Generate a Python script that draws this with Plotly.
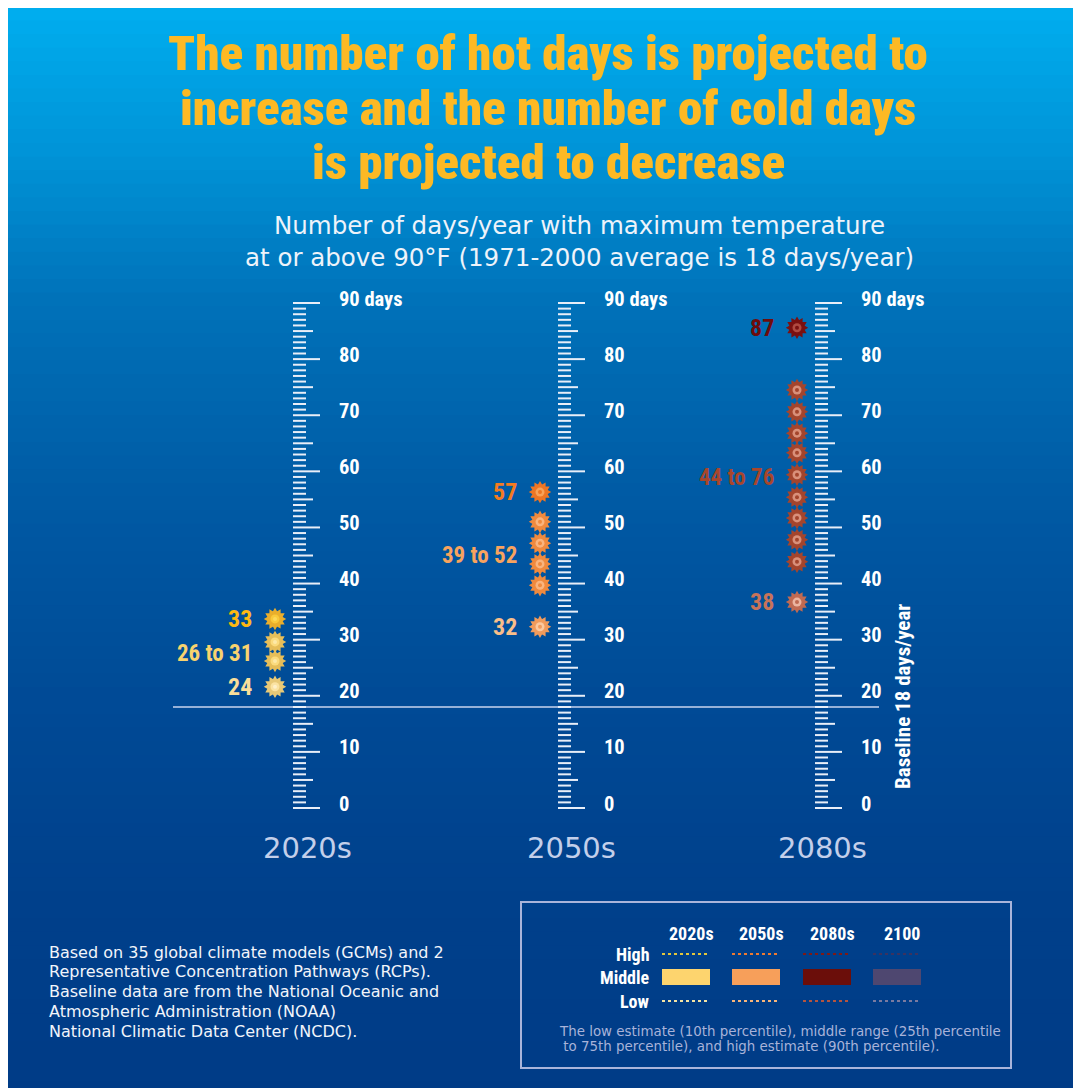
import numpy as np
import plotly.graph_objects as go

# ------------------------------------------------------------------ data
decades = ["2020s", "2050s", "2080s"]
low_days = [24, 32, 38]
mid_low_days = [26, 39, 44]
mid_high_days = [31, 52, 76]
high_days = [33, 57, 87]
baseline_days = 18
ruler_ticks = list(range(0, 91))
ruler_label_vals = [0, 10, 20, 30, 40, 50, 60, 70, 80, 90]
ruler_label_text = ["0", "10", "20", "30", "40", "50", "60", "70", "80", "90 days"]
# marker positions on the ruler (days)
low_marker_pos = [21.6, 32.3, 36.7]
mid_marker_pos = [
    [26.2, 29.6],
    [39.7, 43.5, 47.2, 51.0],
    [43.9, 47.8, 51.7, 55.4, 59.4, 63.3, 66.8, 70.6, 74.5],
]
high_marker_pos = [33.7, 56.3, 85.6]

legend_periods = ["2020s", "2050s", "2080s", "2100"]
legend_rows = ["High", "Middle", "Low"]

title_lines = [
    "The number of hot days is projected to",
    "increase and the number of cold days",
    "is projected to decrease",
]
subtitle_lines = [
    "Number of days/year with maximum temperature",
    "at or above 90°F (1971-2000 average is 18 days/year)",
]
source_lines = [
    "Based on 35 global climate models (GCMs) and 2",
    "Representative Concentration Pathways (RCPs).",
    "Baseline data are from the National Oceanic and",
    "Atmospheric Administration (NOAA)",
    "National Climatic Data Center (NCDC).",
]
legend_note = [
    "The low estimate (10th percentile), middle range (25th percentile",
    " to 75th percentile), and high estimate (90th percentile).",
]

# ------------------------------------------------------------------ layout constants
W, H = 1081, 1088
OFF = 8                      # page body margin
ZERO_SY = 808                # screen y of 0 days
SCALE = 5.611                # px per day
ruler_x = [293, 558, 815]
decade_label_x = [307, 571, 822]

COND = "Roboto Condensed, Liberation Sans, sans-serif"
WIDE = "DejaVu Sans, Open Sans, sans-serif"


def sy2d(sy):
    return (ZERO_SY - sy) / SCALE


def py(sy):
    return 1 - (sy - OFF) / H


sun_colors = [
    # (spike, ring, dot, text) for high, mid, low
    [("#E9AE2C", "#F9C93A", "#FDD85A", "#FDB913"),
     ("#E6BE5A", "#FBDB7E", "#FDE9A8", "#F8D36E"),
     ("#E8C977", "#FBE3A2", "#FEF0C9", "#F9DE9A")],
    [("#EE7624", "#F7A259", "#EE7624", "#F47B20"),
     ("#F08A3E", "#F9B47E", "#F08A3E", "#F8A35E"),
     ("#F19B5C", "#FBC9A0", "#F19B5C", "#F9BE8A")],
    [("#7A1111", "#B04A40", "#7A1111", "#6E0C0C"),
     ("#A4452D", "#D9907A", "#A4452D", "#A8462C"),
     ("#C06A52", "#EBB4A0", "#C06A52", "#C8735A")],
]

fig = go.Figure()

# ---------------- background gradient
stops_y = [OFF, 160, 300, 500, 700, 900, OFF + H]
stops_c = [(0, 174, 239), (0, 146, 214), (0, 114, 185), (0, 90, 164),
           (0, 74, 150), (0, 64, 139), (0, 59, 134)]
shapes = []
nb = 80
edges = np.linspace(OFF, OFF + H, nb + 1)
for i in range(nb):
    mid = 0.5 * (edges[i] + edges[i + 1])
    rgb = [int(round(np.interp(mid, stops_y, [c[k] for c in stops_c]))) for k in range(3)]
    shapes.append(dict(type="rect", xref="paper", yref="paper", x0=0, x1=1,
                       y0=py(edges[i + 1]) - 0.001, y1=py(edges[i]) + 0.001,
                       fillcolor="rgb(%d,%d,%d)" % tuple(rgb), line=dict(width=0),
                       layer="below"))

# ---------------- baseline
fig.add_trace(go.Scatter(x=[173, 879], y=[baseline_days, baseline_days], mode="lines",
                         line=dict(color="#C9D5EE", width=1.5), hoverinfo="skip"))

annotations = []

# ---------------- rulers
for i, rx in enumerate(ruler_x):
    xs, ys = [], []
    for d in ruler_ticks:
        L = 27 if d % 10 == 0 else (20 if d % 5 == 0 else 13)
        xs += [rx, rx + L, None]
        ys += [d, d, None]
    fig.add_trace(go.Scatter(x=xs, y=ys, mode="lines",
                             line=dict(color="#E8EEF8", width=2), hoverinfo="skip"))
    for v, t in zip(ruler_label_vals, ruler_label_text):
        annotations.append(dict(x=rx + 44, y=v + 0.8, xref="x", yref="y", text=t,
                                showarrow=False, xanchor="left", yanchor="middle",
                                font=dict(family=COND, size=20.5, color="white", weight=700)))
    annotations.append(dict(x=decade_label_x[i], y=py(848), xref="x", yref="paper",
                            text=decades[i], showarrow=False, xanchor="center", yanchor="middle",
                            font=dict(family=WIDE, size=29, color="#C3CFEA")))


def add_suns(x, ys, spike, ring, dot):
    xx = [x] * len(ys)
    for ang in (0, 30):
        fig.add_trace(go.Scatter(x=xx, y=ys, mode="markers", hoverinfo="skip",
                                 marker=dict(symbol="hexagram", size=17, angle=ang,
                                             color=spike, line=dict(width=0))))
    fig.add_trace(go.Scatter(x=xx, y=ys, mode="markers", hoverinfo="skip",
                             marker=dict(symbol="circle", size=13, color=spike, line=dict(width=0))))
    fig.add_trace(go.Scatter(x=xx, y=ys, mode="markers", hoverinfo="skip",
                             marker=dict(symbol="circle", size=9, color=ring, line=dict(width=0))))
    fig.add_trace(go.Scatter(x=xx, y=ys, mode="markers", hoverinfo="skip",
                             marker=dict(symbol="circle", size=4, color=dot, line=dict(width=0))))


for i, rx in enumerate(ruler_x):
    mx = rx - 18
    hi, mi, lo = sun_colors[i]
    add_suns(mx, [high_marker_pos[i]], *hi[:3])
    add_suns(mx, mid_marker_pos[i], *mi[:3])
    add_suns(mx, [low_marker_pos[i]], *lo[:3])
    lx = rx - 39
    annotations.append(dict(x=lx, y=high_marker_pos[i], xref="x", yref="y",
                            text=str(high_days[i]), showarrow=False, xanchor="right",
                            yanchor="middle",
                            font=dict(family=COND, size=24, color=hi[3], weight=700)))
    annotations.append(dict(x=lx, y=float(np.mean(mid_marker_pos[i])) - 0.4, xref="x", yref="y",
                            text="%d to %d" % (mid_low_days[i], mid_high_days[i]),
                            showarrow=False, xanchor="right", yanchor="middle",
                            font=dict(family=COND, size=23, color=mi[3], weight=700)))
    annotations.append(dict(x=lx, y=low_marker_pos[i], xref="x", yref="y",
                            text=str(low_days[i]), showarrow=False, xanchor="right",
                            yanchor="middle",
                            font=dict(family=COND, size=24, color=lo[3], weight=700)))

# baseline vertical label
annotations.append(dict(x=903, y=sy2d(697), xref="x", yref="y", text="Baseline 18 days/year",
                        textangle=-90, showarrow=False, xanchor="center", yanchor="middle",
                        font=dict(family=COND, size=21, color="white", weight=700)))

# ---------------- title / subtitle
for t, sy in zip(title_lines, [54, 108, 162]):
    annotations.append(dict(x=548, y=py(sy), xref="x", yref="paper", text=t, showarrow=False,
                            xanchor="center", yanchor="middle",
                            font=dict(family=COND, size=49, color="#FDB924", weight=900)))
for t, sy in zip(subtitle_lines, [225, 257]):
    annotations.append(dict(x=579, y=py(sy), xref="x", yref="paper", text=t, showarrow=False,
                            xanchor="center", yanchor="middle",
                            font=dict(family=WIDE, size=24.5, color="#EEF3FA")))

# ---------------- source text
for k, t in enumerate(source_lines):
    annotations.append(dict(x=47, y=py(952 + 19.8 * k), xref="x", yref="paper", text=t,
                            showarrow=False, xanchor="left", yanchor="middle",
                            font=dict(family=WIDE, size=16, color="#F2F5FB")))

# ---------------- legend box
shapes.append(dict(type="rect", xref="x", yref="paper", x0=521, x1=1011, y0=py(1068), y1=py(902),
                   line=dict(color="#A9B4DA", width=2), fillcolor="rgba(0,0,0,0)"))
col_x0 = [662, 732, 803, 873]
col_w = 48
row_y = [954, 977, 1001]
mid_cols = ["#FDD46E", "#F79F5A", "#6B0E0A", "#4E4770"]
high_cols = ["#E3C53C", "#EE7A30", "#7E1A16", "#3A3360"]
low_cols = ["#F4E4A4", "#F8B57A", "#B45440", "#7A7AA0"]
for j, p in enumerate(legend_periods):
    x0 = col_x0[j]
    annotations.append(dict(x=x0 + col_w / 2 + 5, y=py(933), xref="x", yref="paper", text=p,
                            showarrow=False, xanchor="center", yanchor="middle",
                            font=dict(family=COND, size=18, color="white", weight=700)))
    shapes.append(dict(type="rect", xref="x", yref="paper", x0=x0, x1=x0 + col_w,
                       y0=py(985), y1=py(969), fillcolor=mid_cols[j], line=dict(width=0)))
    shapes.append(dict(type="line", xref="x", yref="paper", x0=x0, x1=x0 + col_w,
                       y0=py(row_y[0]), y1=py(row_y[0]), line=dict(color=high_cols[j], width=2, dash="dot")))
    shapes.append(dict(type="line", xref="x", yref="paper", x0=x0, x1=x0 + col_w,
                       y0=py(row_y[2]), y1=py(row_y[2]), line=dict(color=low_cols[j], width=2, dash="dot")))
for r, sy in zip(legend_rows, row_y):
    annotations.append(dict(x=652, y=py(sy), xref="x", yref="paper", text=r, showarrow=False,
                            xanchor="right", yanchor="middle",
                            font=dict(family=COND, size=18, color="white", weight=700)))
for t, sy, sx in zip(legend_note, [1031, 1046], [557, 557]):
    annotations.append(dict(x=sx, y=py(sy), xref="x", yref="paper", text=t, showarrow=False,
                            xanchor="left", yanchor="middle",
                            font=dict(family=WIDE, size=13.4, color="#A8B3D9")))

fig.update_layout(
    width=W, height=H,
    margin=dict(l=0, r=0, t=0, b=0, pad=0),
    paper_bgcolor="rgb(0,59,134)",
    plot_bgcolor="rgba(0,0,0,0)",
    showlegend=False,
    xaxis=dict(range=[OFF, OFF + W], visible=False, fixedrange=True),
    yaxis=dict(range=[sy2d(OFF + H), sy2d(OFF)], visible=False, fixedrange=True),
    shapes=shapes,
    annotations=annotations,
)

fig.write_html("out.html", config={"displayModeBar": False})
